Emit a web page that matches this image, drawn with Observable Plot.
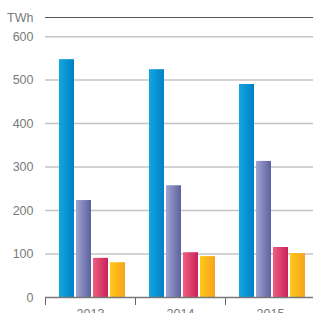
<!DOCTYPE html>
<html><head><meta charset="utf-8">
<script src="https://cdn.jsdelivr.net/npm/d3@7"></script>
<script src="https://cdn.jsdelivr.net/npm/@observablehq/plot@0.6"></script>
<style>
body{margin:0;background:#fff;}
svg{font-family:"Liberation Sans",Arial,sans-serif;}
</style>
</head><body><div id="chart"></div>
<script>
const years = ["2013", "2014", "2015"];
const seriesNames = ["s1", "s2", "s3", "s4"];
const s1 = [547, 524, 490];
const s2 = [223, 257, 313];
const s3 = [90, 103, 115];
const s4 = [80, 94, 101];
const yTicks = [0, 100, 200, 300, 400, 500, 600];
const unitLabel = "TWh";
const unitLevel = 644;

const gradients = [
  ["#14a6e0", "#0080c6"],
  ["#a0a3d2", "#5c619f"],
  ["#ef5f7e", "#c9215a"],
  ["#ffc918", "#f8a21e"]
];

const allSeries = [s1, s2, s3, s4];
const data = [];
years.forEach((yr, i) => allSeries.forEach((s, j) => data.push({year: yr, series: seriesNames[j], value: s[i], idx: j})));

const plot = Plot.plot({
  width: 313, height: 313,
  marginLeft: 44, marginRight: -2, marginTop: 17, marginBottom: 16,
  fx: {domain: years, paddingInner: 0, paddingOuter: 0, label: null},
  x: {domain: seriesNames, paddingInner: 0.13, paddingOuter: 0, insetLeft: 13, insetRight: 10, axis: null},
  y: {domain: [0, unitLevel], axis: null},
  color: {type: "identity"},
  style: {fontSize: "12.5px", color: "#777", overflow: "hidden"},
  marks: [
    Plot.ruleY(yTicks.slice(1), {stroke: "#c4c4c4", strokeWidth: 1.5}),
    Plot.ruleY([unitLevel], {stroke: "#555", strokeWidth: 1.2}),
    Plot.axisY([...yTicks, unitLevel], {tickSize: 0, tickPadding: 12, fill: "#7a7a7a", fontSize: 12.5, label: null,
      tickFormat: d => d === unitLevel ? unitLabel : d}),
    Plot.barY(data, {fx: "year", x: "series", y: "value", fill: d => `url(#grad${d.idx})`}),
    Plot.frame({anchor: "left", insetTop: 280, insetBottom: -7, stroke: "#666", strokeWidth: 1}),
    Plot.ruleY([0], {stroke: "#777", strokeWidth: 1.5}),
    Plot.axisFx({anchor: "bottom", tickSize: 0, tickPadding: 12, fill: "#777", fontSize: 12.5, label: null})
  ]
});

const svg = d3.select(plot);
const defs = svg.insert("defs", ":first-child");
gradients.forEach((g, i) => {
  const lg = defs.append("linearGradient").attr("id", "grad" + i).attr("x1", "0").attr("x2", "1").attr("y1", "0").attr("y2", "0");
  lg.append("stop").attr("offset", "0").attr("stop-color", g[0]);
  lg.append("stop").attr("offset", "1").attr("stop-color", g[1]);
});
document.getElementById("chart").appendChild(plot);
</script>
</body></html>
